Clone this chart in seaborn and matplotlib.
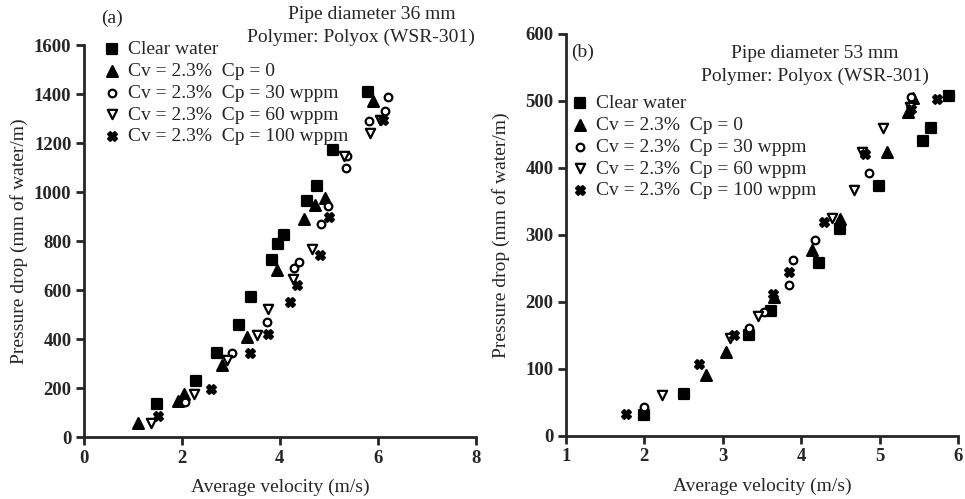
import numpy as np
import pandas as pd
import seaborn as sns
import matplotlib.pyplot as plt

# panel (a): pipe diameter 36 mm
a_clear_v = [1.49, 2.29, 2.71, 3.16, 3.41, 3.84, 3.96, 4.08, 4.55, 4.76, 5.08, 5.80]
a_clear_p = [133, 230, 343, 457, 570, 723, 788, 824, 962, 1026, 1172, 1410]
a_cp0_v = [1.10, 1.92, 2.05, 2.82, 3.33, 3.94, 4.49, 4.71, 4.92, 5.90]
a_cp0_p = [57, 145, 175, 295, 408, 683, 889, 945, 974, 1370]
a_cp30_v = [2.06, 3.02, 3.73, 4.29, 4.39, 4.84, 4.98, 5.35, 5.38, 5.82, 6.14, 6.20]
a_cp30_p = [141, 343, 469, 690, 715, 869, 941, 1099, 1145, 1288, 1329, 1386]
a_cp60_v = [1.37, 2.24, 2.92, 3.53, 3.76, 4.27, 4.65, 5.30, 5.84, 6.04]
a_cp60_p = [57, 174, 315, 416, 521, 646, 768, 1145, 1240, 1293]
a_cp100_v = [1.51, 2.59, 3.39, 3.76, 4.20, 4.35, 4.82, 5.00, 6.10]
a_cp100_p = [85, 194, 343, 420, 553, 622, 743, 897, 1295]

# panel (b): pipe diameter 53 mm
b_clear_v = [1.99, 2.51, 3.33, 3.61, 4.23, 4.49, 4.99, 5.55, 5.65, 5.89]
b_clear_p = [31, 63, 151, 187, 258, 309, 373, 440, 460, 507]
b_cp0_v = [2.78, 3.04, 3.65, 4.14, 4.50, 5.09, 5.36, 5.43]
b_cp0_p = [91, 125, 207, 278, 324, 424, 483, 504]
b_cp30_v = [1.99, 3.33, 3.53, 3.85, 3.90, 4.18, 4.86, 5.40]
b_cp30_p = [43, 161, 185, 225, 263, 292, 393, 506]
b_cp60_v = [2.23, 3.09, 3.45, 4.39, 4.68, 4.78, 5.05, 5.39]
b_cp60_p = [61, 146, 179, 325, 367, 424, 460, 491]
b_cp100_v = [1.76, 2.70, 3.14, 3.64, 3.85, 4.29, 4.81, 5.40, 5.73]
b_cp100_p = [33, 108, 151, 212, 245, 320, 421, 488, 503]

labels = ["Clear water", "Cv = 2.3%  Cp = 0", "Cv = 2.3%  Cp = 30 wppm",
          "Cv = 2.3%  Cp = 60 wppm", "Cv = 2.3%  Cp = 100 wppm"]

a_series = [(a_clear_v, a_clear_p), (a_cp0_v, a_cp0_p), (a_cp30_v, a_cp30_p),
            (a_cp60_v, a_cp60_p), (a_cp100_v, a_cp100_p)]
b_series = [(b_clear_v, b_clear_p), (b_cp0_v, b_cp0_p), (b_cp30_v, b_cp30_p),
            (b_cp60_v, b_cp60_p), (b_cp100_v, b_cp100_p)]

# marker, face colour, size
styles = [("s", "black", 55), ("^", "black", 60), ("o", "white", 30),
          ("v", "white", 45), ("X", "black", 40)]

sns.set_style("ticks")
plt.rcParams["font.family"] = ["Liberation Serif", "DejaVu Serif"]
plt.rcParams["font.size"] = 14

FS = 14


def make_df(series):
    frames = []
    for lab, (v, p) in zip(labels, series):
        frames.append(pd.DataFrame({"v": v, "p": p, "series": lab}))
    return pd.concat(frames, ignore_index=True)


def draw_panel(ax, df, xlim, xticks, ylim, yticks, leg_xy, ypad):
    for lab, (m, fc, s) in zip(labels, styles):
        sub = df[df["series"] == lab]
        sns.scatterplot(data=sub, x="v", y="p", ax=ax, marker=m, s=s,
                        facecolor=fc, edgecolor="black", linewidth=1.6,
                        label=lab, clip_on=False)
    ax.set_xlim(*xlim)
    ax.set_ylim(*ylim)
    ax.set_xticks(xticks)
    ax.set_yticks(yticks)
    sns.despine(ax=ax)
    for sp in ["left", "bottom"]:
        ax.spines[sp].set_linewidth(2)
    ax.tick_params(width=2, length=6, labelsize=13.5, direction="out", pad=3)
    for t in ax.get_xticklabels() + ax.get_yticklabels():
        t.set_fontweight("bold")
    ax.set_xlabel("Average velocity (m/s)", fontsize=FS, labelpad=9)
    ax.set_ylabel("Pressure drop (mm of water/m)", fontsize=FS, labelpad=ypad)
    ax.legend(loc="upper left", bbox_to_anchor=leg_xy, frameon=False,
              fontsize=FS, handletextpad=0.4, labelspacing=0.22,
              borderaxespad=0, handlelength=0.8, borderpad=0)
    return ax


fig = plt.figure(figsize=(9.65, 4.99), dpi=100)
ax1 = fig.add_axes([0.087, 0.1242, 0.406, 0.7856])
ax2 = fig.add_axes([0.5865, 0.1263, 0.4062, 0.8056])

draw_panel(ax1, make_df(a_series), (0, 8), [0, 2, 4, 6, 8],
           (0, 1600), np.arange(0, 1601, 200), (0.052, 1.012), 4)
draw_panel(ax2, make_df(b_series), (1, 6), [1, 2, 3, 4, 5, 6],
           (0, 600), np.arange(0, 601, 100), (0.017, 0.85), 11)

fig.text(0.116, 0.964, "(a)", fontsize=FS, ha="center", va="center")
fig.text(0.3855, 0.970, "Pipe diameter 36 mm", fontsize=FS, ha="center", va="center")
fig.text(0.374, 0.926, "Polymer: Polyox (WSR-301)", fontsize=FS, ha="center", va="center")
fig.text(0.604, 0.896, "(b)", fontsize=FS, ha="center", va="center")
fig.text(0.8446, 0.892, "Pipe diameter 53 mm", fontsize=FS, ha="center", va="center")
fig.text(0.8446, 0.848, "Polymer: Polyox (WSR-301)", fontsize=FS, ha="center", va="center")

fig.savefig("out.png", dpi=100)
